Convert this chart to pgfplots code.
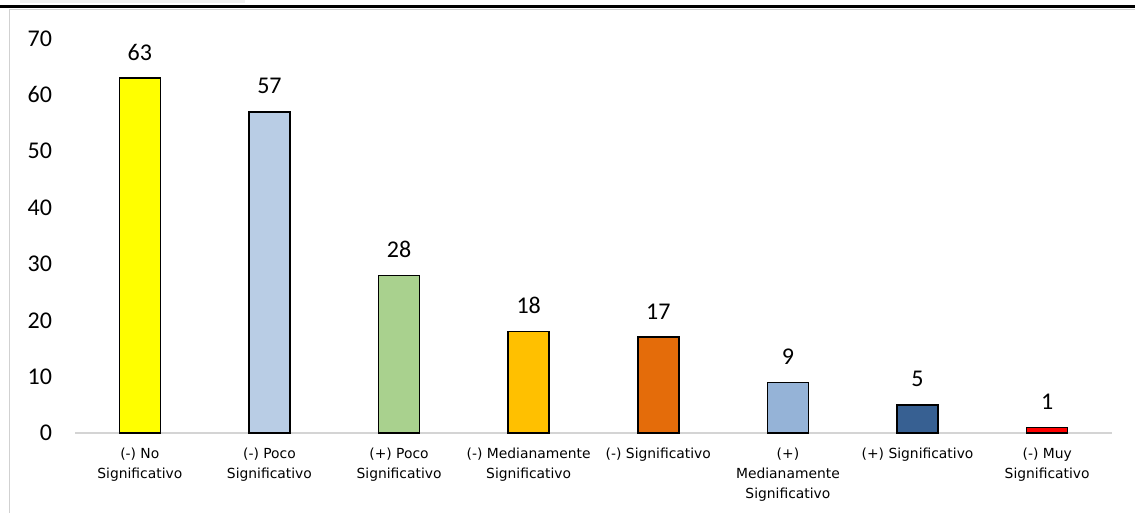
\documentclass[border=0pt]{standalone}
\usepackage{fontspec}
\setmainfont{Carlito}
\newfontfamily\catfont{DejaVu Sans}
\usepackage{pgfplots}
\pgfplotsset{compat=1.18}

\definecolor{cNo}{HTML}{FFFF00}
\definecolor{cPocoN}{HTML}{B9CDE5}
\definecolor{cPocoP}{HTML}{A9D18E}
\definecolor{cMedN}{HTML}{FFC000}
\definecolor{cSigN}{HTML}{E46C0A}
\definecolor{cMedP}{HTML}{95B3D7}
\definecolor{cSigP}{HTML}{376092}
\definecolor{cMuyN}{HTML}{FF0000}

\begin{document}
\begin{tikzpicture}[x=0.75pt,y=0.75pt]
\useasboundingbox (0,0) rectangle (1135,513);
\fill[black!6] (20,513) rectangle (245,509.5);
\draw[black!18, line width=0.75pt] (9,0) -- (9,503) -- (1135,503);
\draw[black, line width=1.6pt] (0,506.5) -- (1135,506.5);
\begin{axis}[
    at={(56.25pt,60pt)}, anchor=south west,
    scale only axis,
    width=777.75pt, height=295.8pt,
    ybar, bar width=30.75pt, bar shift=0pt,
    xmin=-0.5, xmax=7.5,
    ymin=0, ymax=70,
    clip=false,
    axis lines*=left,
    axis line style={-},
    y axis line style={draw=none},
    x axis line style={draw=black!17, line width=1.3pt},
    major tick length=0pt,
    xtick={0,...,7},
    xticklabels={(-) No\\Significativo, (-) Poco\\Significativo, (+) Poco\\Significativo,
        (-) Medianamente\\Significativo, (-) Significativo, (+)\\Medianamente\\Significativo,
        (+) Significativo, (-) Muy\\Significativo},
    xticklabel style={align=center, anchor=north, inner sep=0pt, yshift=-11pt,
        font=\catfont\fontsize{10.4}{15}\selectfont},
    ytick={0,10,...,70},
    yticklabel style={anchor=east, inner sep=0pt, xshift=-17pt,
        font=\fontsize{18}{20}\selectfont},
    /pgf/number format/assume math mode=true,
    nodes near coords,
    every node near coord/.append style={font=\fontsize{18}{20}\selectfont,
        inner sep=0pt, yshift=12.75pt, text=black},
    every axis plot/.append style={draw=black, line width=1.1pt},
]
\addplot[fill=cNo]    coordinates {(0,63)};
\addplot[fill=cPocoN] coordinates {(1,57)};
\addplot[fill=cPocoP] coordinates {(2,28)};
\addplot[fill=cMedN]  coordinates {(3,18)};
\addplot[fill=cSigN]  coordinates {(4,17)};
\addplot[fill=cMedP]  coordinates {(5,9)};
\addplot[fill=cSigP]  coordinates {(6,5)};
\addplot[fill=cMuyN]  coordinates {(7,1)};
\end{axis}
\end{tikzpicture}
\end{document}
